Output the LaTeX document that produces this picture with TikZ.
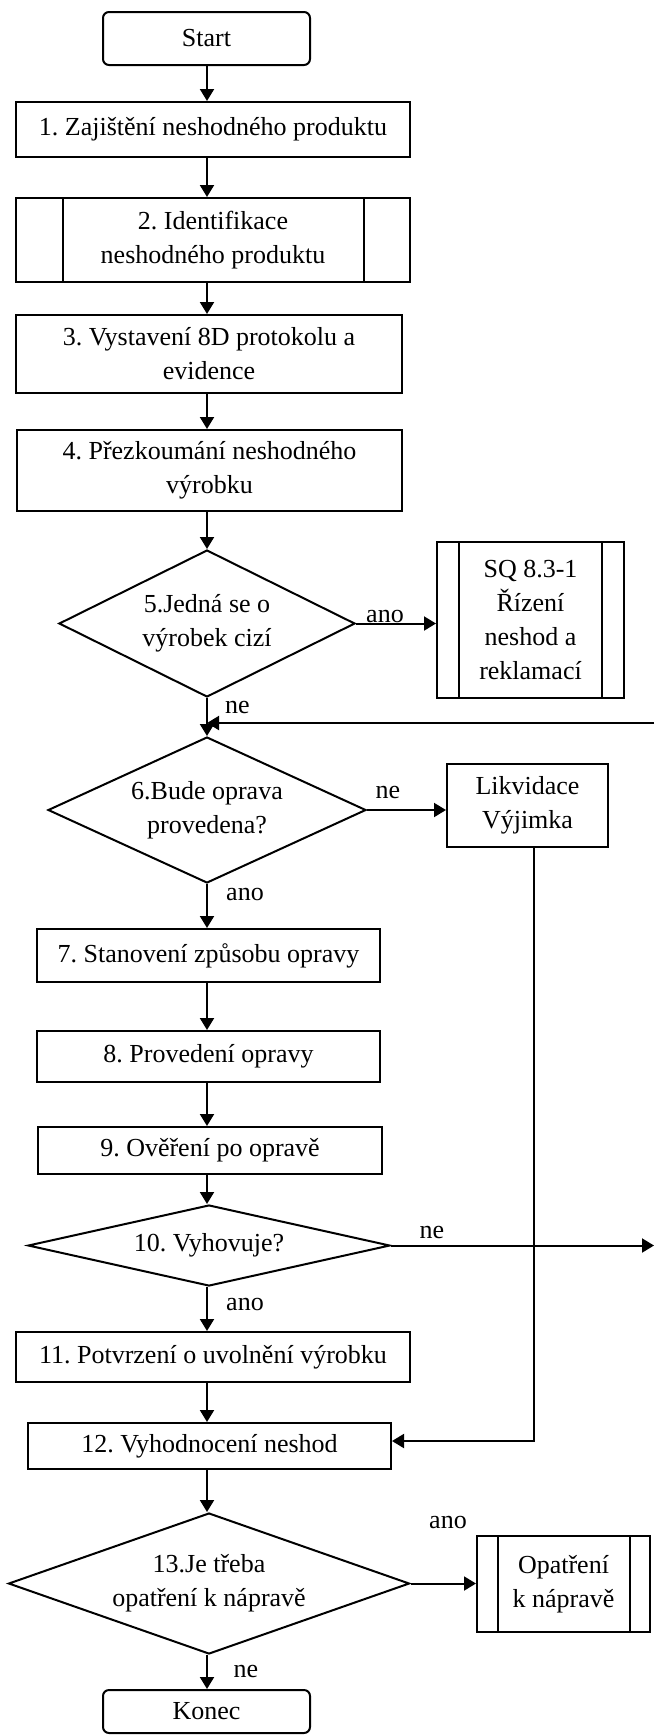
\documentclass[tikz,border=0pt]{standalone}
\usepackage{fontspec}
\setmainfont{Liberation Serif}
\usetikzlibrary{shapes.geometric,arrows.meta}
\frenchspacing
\begin{document}
\begin{tikzpicture}[x=0.5pt,y=-0.5pt,
  every node/.style={font=\fontsize{13}{17}\selectfont},
  box/.style={draw,line width=1pt,rectangle,inner sep=0pt,align=center},
  term/.style={box,rounded corners=3pt},
  dec/.style={draw,line width=1pt,diamond,inner sep=0pt,align=center},
  lbl/.style={inner sep=0pt,anchor=base},
  conn/.style={line width=1pt,-{Triangle[length=6pt,width=7pt]}},
  inner/.style={line width=1pt}
]
\useasboundingbox (0,0) rectangle (654,1736);
\coordinate (ax) at (207,0);

\node[term,minimum width=103.5pt,minimum height=26.5pt] (start) at (206.5,38.5) {Start};
\node[box,minimum width=197pt,minimum height=27.5pt] (b1) at (213,129.5) {1. Zajištění neshodného produktu};
\node[box,minimum width=197pt,minimum height=42pt] (b2) at (213,240) {2. Identifikace\\neshodného produktu};
\draw[inner] ([xshift=24pt]b2.north west) -- ([xshift=24pt]b2.south west);
\draw[inner] ([xshift=-23.5pt]b2.north east) -- ([xshift=-23.5pt]b2.south east);
\node[box,minimum width=193pt,minimum height=39pt] (b3) at (209,354) {3. Vystavení 8D protokolu a\\evidence};
\node[box,minimum width=192.5pt,minimum height=40.5pt] (b4) at (209.5,470.5) {4. Přezkoumání neshodného\\výrobku};
\node[dec,aspect=2.01,minimum width=148pt,minimum height=73.5pt] (d5) at (207,623.5) {5.Jedná se o\\výrobek cizí};
\node[box,minimum width=93.5pt,minimum height=78pt] (sq) at (530.5,620) {SQ 8.3-1\\Řízení\\neshod a\\reklamací};
\draw[inner] ([xshift=11.5pt]sq.north west) -- ([xshift=11.5pt]sq.south west);
\draw[inner] ([xshift=-11.5pt]sq.north east) -- ([xshift=-11.5pt]sq.south east);
\node[dec,aspect=2.18,minimum width=159pt,minimum height=73pt] (d6) at (207,810) {6.Bude oprava\\provedena?};
\node[box,minimum width=80.5pt,minimum height=41.5pt] (lik) at (527.5,805.5) {Likvidace\\Výjimka};
\node[box,minimum width=171.5pt,minimum height=26.5pt] (b7) at (208.5,955.5) {7. Stanovení způsobu opravy};
\node[box,minimum width=171.5pt,minimum height=25.5pt] (b8) at (208.5,1056.5) {8. Provedení opravy};
\node[box,minimum width=172pt,minimum height=23.5pt] (b9) at (210,1150.5) {9. Ověření po opravě};
\node[dec,aspect=4.47,minimum width=181pt,minimum height=40.5pt] (d10) at (209,1245.5) {10. Vyhovuje?};
\node[box,minimum width=197pt,minimum height=25pt] (b11) at (213,1357) {11. Potvrzení o uvolnění výrobku};
\node[box,minimum width=181.5pt,minimum height=23pt] (b12) at (209.5,1446) {12. Vyhodnocení neshod};
\node[dec,aspect=2.84,minimum width=200.5pt,minimum height=70.5pt] (d13) at (209,1583.5) {13.Je třeba\\opatření k nápravě};
\node[box,minimum width=86.5pt,minimum height=48pt] (op) at (563.5,1584) {Opatření\\k nápravě};
\draw[inner] ([xshift=11pt]op.north west) -- ([xshift=11pt]op.south west);
\draw[inner] ([xshift=-10.5pt]op.north east) -- ([xshift=-10.5pt]op.south east);
\node[term,minimum width=103.5pt,minimum height=21.5pt] (konec) at (206.5,1711.5) {Konec};

% connectors
\draw[conn] (start.south -| ax) -- (b1.north -| ax);
\draw[conn] (b1.south -| ax) -- (b2.north -| ax);
\draw[conn] (b2.south -| ax) -- (b3.north -| ax);
\draw[conn] (b3.south -| ax) -- (b4.north -| ax);
\draw[conn] (b4.south -| ax) -- (d5.north);
\draw[conn] (d5.east) -- (sq.west |- d5.east);
\draw[conn] (d5.south) -- (d6.north);
\coordinate (ret) at (654,723);
\draw[conn] (ret) -- (ret -| ax);
\draw[conn] (d6.east) -- (lik.west |- d6.east);
\draw[conn] (d6.south) -- (b7.north -| ax);
\draw[conn] (b7.south -| ax) -- (b8.north -| ax);
\draw[conn] (b8.south -| ax) -- (b9.north -| ax);
\draw[conn] (b9.south -| ax) -- (d10.north -| ax);
\coordinate (out10) at (654,1245.5);
\draw[conn] (d10.east) -- (out10);
\draw[conn] (d10.south -| ax) -- (b11.north -| ax);
\coordinate (lk) at (534,1441);
\draw[conn] (lik.south -| lk) -- (lk) -- (lk -| b12.east);
\draw[conn] (b11.south -| ax) -- (b12.north -| ax);
\draw[conn] (b12.south -| ax) -- (d13.north -| ax);
\draw[conn] (d13.east) -- (op.west |- d13.east);
\draw[conn] (d13.south -| ax) -- (konec.north -| ax);

% labels
\node[lbl] (l1) at (385,622) {ano};
\node[lbl] (l2) at (237.5,713) {ne};
\node[lbl] (l3) at (388,798) {ne};
\node[lbl] (l4) at (245,900) {ano};
\node[lbl] (l5) at (432,1238) {ne};
\node[lbl] (l6) at (245,1310) {ano};
\node[lbl] (l7) at (448,1528) {ano};
\node[lbl] (l8) at (246,1677) {ne};
\end{tikzpicture}
\end{document}
